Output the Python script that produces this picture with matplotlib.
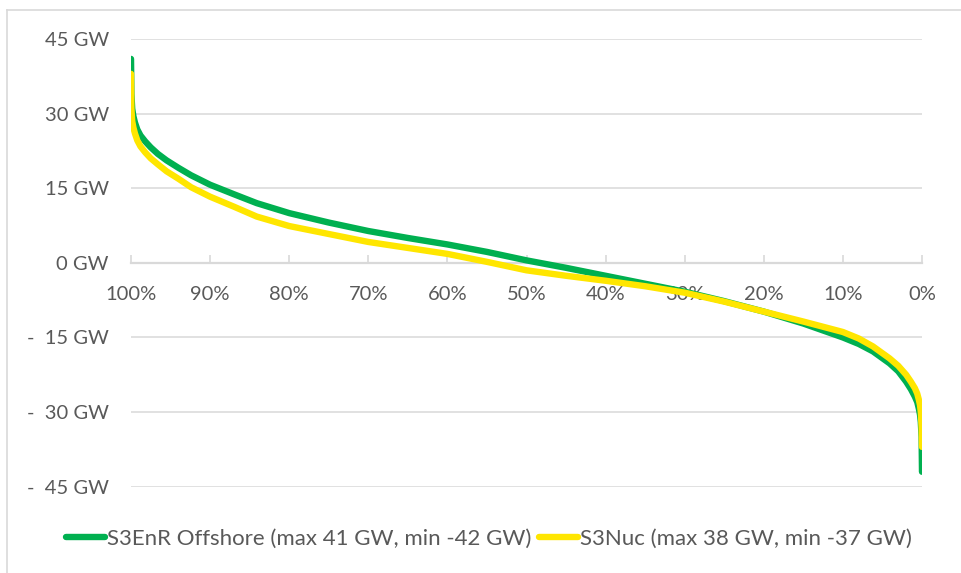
import matplotlib.pyplot as plt
from matplotlib.lines import Line2D

# share of hours (%) vs. residual power (GW)
pct_enr = [100, 99.95, 99.85, 99.7, 99.5, 99.2, 98.8, 98.2, 97.5, 96.6, 95.5, 94, 92.4, 90, 87,
           84.1, 80, 75, 70, 65, 60, 55, 50, 45, 40, 35, 30, 25, 20, 15, 10, 8, 6.2, 4.1, 3, 2,
           1.4, 0.9, 0.6, 0.4, 0.25, 0.15, 0.05, 0]
gw_enr = [41, 34, 31, 29.5, 28.2, 26.8, 25.6, 24.4, 23.2, 21.9, 20.6, 19.1, 17.6, 15.7, 13.8,
          12.0, 10.0, 8.1, 6.4, 5.0, 3.7, 2.2, 0.5, -1.0, -2.6, -4.2, -5.8, -7.7, -9.8, -12.2, -15.0,
          -16.3, -17.8, -20.2, -21.8, -23.9, -25.4, -26.9, -28.0, -29.3, -30.5, -32, -35, -42]

pct_nuc = [100, 99.95, 99.85, 99.7, 99.5, 99.2, 98.8, 98.2, 97.5, 96.6, 95.5, 94, 92.4, 90, 87,
           84.1, 80, 75, 70, 65, 60, 55, 50, 45, 40, 35, 30, 25, 20, 15, 10, 8, 6.2, 4.1, 3, 2,
           1.4, 0.9, 0.6, 0.4, 0.25, 0.15, 0.05, 0]
gw_nuc = [38, 31, 28.5, 27.2, 26.0, 24.6, 23.4, 22.2, 21.0, 19.8, 18.4, 16.9, 15.2, 13.3, 11.3,
          9.3, 7.4, 5.8, 4.2, 3.0, 1.8, 0.2, -1.5, -2.6, -3.6, -4.7, -6.0, -7.8, -9.8, -11.8, -13.9,
          -15.2, -16.8, -19.2, -20.7, -22.5, -23.9, -25.2, -26.3, -27.5, -28.6, -30, -33, -37]

label_enr = "S3EnR Offshore (max 41 GW, min -42 GW)"
label_nuc = "S3Nuc (max 38 GW, min -37 GW)"

y_ticks = [45, 30, 15, 0, -15, -30, -45]
y_labels = ["45 GW", "30 GW", "15 GW", "0 GW", "-  15 GW", "-  30 GW", "-  45 GW"]
x_ticks = [100, 90, 80, 70, 60, 50, 40, 30, 20, 10, 0]
x_labels = [f"{v}%" for v in x_ticks]

plt.rcParams['font.family'] = ['Lato', 'DejaVu Sans']
text_col = '#595959'
grid_col = '#d9d9d9'

fig = plt.figure(figsize=(9.62, 5.73), dpi=100)
ax = fig.add_axes([131 / 962, 1 - 486.7 / 573, (922 - 131) / 962, (486.7 - 39) / 573])

ax.plot(pct_enr, gw_enr, color='#00b050', lw=4.6, solid_capstyle='round', solid_joinstyle='round',
        label=label_enr, zorder=3)
ax.plot(pct_nuc, gw_nuc, color='#ffe600', lw=4.6, solid_capstyle='round', solid_joinstyle='round',
        label=label_nuc, zorder=4)

ax.set_xlim(100, 0)
ax.set_ylim(-45, 45)
ax.set_yticks(y_ticks)
ax.set_yticklabels(y_labels)
ax.set_xticks(x_ticks)
ax.set_xticklabels(x_labels)

for s in ['top', 'right', 'left']:
    ax.spines[s].set_visible(False)
ax.spines['bottom'].set_position(('data', 0))
ax.spines['bottom'].set_color(grid_col)
ax.spines['bottom'].set_linewidth(1.6)

ax.yaxis.grid(True, color=grid_col, lw=1.1)
ax.set_axisbelow(True)
ax.tick_params(axis='y', length=0, pad=16, labelsize=14.5, labelcolor=text_col)
ax.tick_params(axis='x', direction='in', length=6, width=1.2, color=grid_col,
               pad=17, labelsize=14.5, labelcolor=text_col)

leg = fig.legend(loc='center', bbox_to_anchor=(0.508, 1 - 539 / 573), ncol=2, frameon=False,
                 fontsize=16, handlelength=1.75, handletextpad=0.08, columnspacing=0.35,
                 labelcolor=text_col)

# chart frame (only top and left edges visible)
fig.add_artist(Line2D([7 / 962, 7 / 962], [0, 1 - 10 / 573], color=grid_col, lw=1.2))
fig.add_artist(Line2D([7 / 962, 1], [1 - 10 / 573, 1 - 10 / 573], color=grid_col, lw=1.2))

fig.savefig('out.png', dpi=100)
